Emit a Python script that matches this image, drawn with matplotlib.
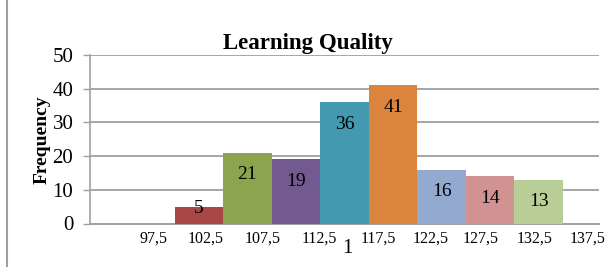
import matplotlib
matplotlib.use("Agg")
import matplotlib.pyplot as plt
from matplotlib.lines import Line2D

# Data
series_names = ["s0", "s1", "s2", "s3", "s4", "s5", "s6", "s7", "s8"]
values = [0, 5, 21, 19, 36, 41, 16, 14, 13]
colors = ["#4F81BD", "#A94747", "#8BA54E", "#72598F", "#4299B0",
          "#DB843E", "#93A9CF", "#D19392", "#B9CD96"]
bin_labels = ["97,5", "102,5", "107,5", "112,5", "117,5",
              "122,5", "127,5", "132,5", "137,5"]
bin_label_pos = [-3.93, -2.85, -1.68, -0.52, 0.69, 1.78, 2.81, 3.92, 5.01]
category = "1"

plt.rcParams['font.family'] = ['Liberation Serif', 'DejaVu Serif']

fig = plt.figure(figsize=(6.08, 2.76), dpi=100)
ax = fig.add_axes([90/608, 52.5/276, (599-90)/608, (223.5-55)/276])

n = len(values)
for i, (v, c) in enumerate(zip(values, colors)):
    x = i - (n - 1) / 2
    if v > 0:
        ax.bar(x, v, width=1.0, color=c, zorder=3)
        ly = max(v - 6.5, 4.45)
        ax.text(x, ly, str(v), ha='center', va='center', fontsize=14,
                color='black', zorder=4)

ax.set_xlim(-5.24, 5.24)
ax.set_ylim(0, 50)
ax.set_yticks([0, 10, 20, 30, 40, 50])
ax.tick_params(axis='y', labelsize=15, length=5, width=1, color='#A0A0A0',
               direction='out', pad=7)
ax.set_xticks([])
ax.grid(axis='y', color='#A6A6A6', linewidth=1.4, zorder=0)
for s in ['top', 'right']:
    ax.spines[s].set_visible(False)
ax.spines['left'].set_color('#A0A0A0')
ax.spines['bottom'].set_color('#A0A0A0')
ax.spines['left'].set_linewidth(1.2)
ax.spines['bottom'].set_linewidth(1.4)

ax.set_ylabel("Frequency", fontsize=14, fontweight='bold', labelpad=1)
ax.set_title("Learning Quality", fontsize=16.5, fontweight='bold', pad=4,
             x=(308-90)/(599-90))

for lab, p in zip(bin_labels, bin_label_pos):
    ax.text(p, -4.5, lab, ha='center', va='center', fontsize=11.5,
            transform=ax.transData, clip_on=False)
ax.text(0.05, -7.5, category, ha='center', va='center', fontsize=15,
        clip_on=False)

# left border line of the frame
fig.add_artist(Line2D([7/608, 7/608], [10/276, 1.0], color='#A0A0A0',
                      linewidth=1.5, transform=fig.transFigure))

fig.savefig("out.png", dpi=100)
